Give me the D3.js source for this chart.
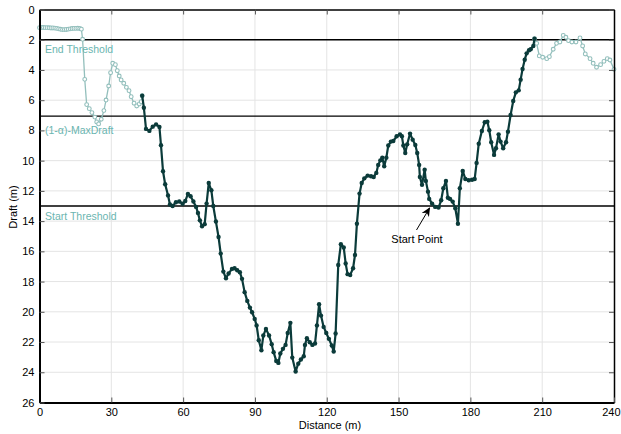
<!DOCTYPE html>
<html><head><meta charset="utf-8">
<script src="https://cdn.jsdelivr.net/npm/d3@7"></script>
<style>
html,body{margin:0;padding:0;background:#fff;}
svg{display:block;font-family:"Liberation Sans",Arial,sans-serif;}
</style></head>
<body>
<svg id="chart" width="621" height="434"></svg>
<script>
// ---- data ----
const xTicks = [0,30,60,90,120,150,180,210,240];
const yTicks = [0,2,4,6,8,10,12,14,16,18,20,22,24,26];

const lightLeftX = [0,0.8,1.6,2.4,3.2,4,4.8,5.6,6.4,7.2,8,8.8,9.6,10.4,11.2,12,12.8,13.6,14.4,15.2,16,16.8,17.5,18,18.9,19.7,20.8,21.9,23.1,23.9,24.7,25.8,26.9,27.8,28.9,29.7,30.6,31.7,32.5,33.3,34.1,35.2,36.3,37.4,38.3,39.5,40.6,41.7,42.5,42.9];
const lightLeftY = [1.2,1.19,1.19,1.2,1.2,1.21,1.22,1.22,1.23,1.25,1.28,1.31,1.33,1.33,1.32,1.3,1.28,1.26,1.25,1.25,1.24,1.26,1.3,1.97,4.62,6.29,6.56,6.82,7.12,7.44,7.57,7.26,6.69,5.99,5.06,4.18,3.56,3.65,4.05,4.4,4.66,4.88,5.15,5.37,5.77,6.2,6.38,6.25,6.1,5.7];

const darkX = [42.9,43.6,44.5,45.9,47.3,48.7,50.1,50.75,51.6,52.5,53.7,54.5,55.6,57,58.4,59.8,60.9,62,63.1,64.3,65.4,66.2,67,67.9,69,69.8,70.7,71.8,72.6,73.7,74.8,75.7,76.8,77.9,79,80.4,81.5,82.6,83.7,84.6,85.7,86.8,87.9,88.8,89.9,90.7,91.6,92.7,93.5,94.6,95.9,97,97.8,98.9,99.8,100.6,101.7,102.8,103.7,104.8,105.6,107,108.1,109.2,110.4,110.9,111.7,112.9,114,115.1,115.9,116.8,117.6,118.7,119.8,120.9,122.1,122.9,123.7,124.8,125.9,127.1,127.9,128.7,129.8,131,131.8,132.6,133.7,134.6,135.7,137.1,138.5,139.6,140.7,141.5,142.4,143.2,144,144.9,145.7,146.8,147.8,149.2,150.6,151.4,152,152.8,153.6,154.8,155.9,157,157.8,158.6,158.9,159.8,160.9,161.4,162.3,162.8,164,165.3,166.7,167.8,168.7,169.8,170.6,171.5,172.6,173.7,174.8,175.6,176.8,177.9,179.3,180.7,181.8,182.6,183.5,184.8,186,187.1,187.9,188.7,189.9,190.7,191.8,192.6,193.7,194.9,195.7,196.8,197.9,199,200.2,201,201.8,202.7,203.5,204.5,205.2,206.3,206.8];
const darkY = [5.7,6.5,7.9,8.03,7.75,7.6,7.77,8.98,10.7,11.56,12.3,12.9,13.0,12.75,12.7,12.85,12.67,12.2,12.35,12.7,13.06,13.46,13.95,14.34,14.2,12.84,11.48,11.96,13.0,14.03,15.05,16.15,17.34,17.78,17.47,17.16,17.12,17.25,17.38,17.82,18.7,19.28,19.72,20.03,20.47,20.9,21.88,22.54,21.57,21.13,21.57,22.14,22.67,23.25,23.38,22.76,22.45,22.19,21.4,20.73,23.03,23.95,23.43,23.16,22.94,22.19,21.75,22.01,22.19,22.1,20.9,19.5,20.25,21.0,21.4,21.79,22.23,22.63,21.44,16.9,15.53,15.75,16.8,17.51,17.56,17.12,16.24,14.17,12.18,11.48,11.17,10.99,11.03,11.08,10.81,10.28,9.98,9.8,10.37,9.8,9.0,8.74,8.7,8.39,8.26,8.39,9.0,9.49,8.92,8.21,8.61,8.96,9.49,10.28,11.08,11.6,10.6,11.34,12.05,12.53,12.84,13.06,13.1,12.62,11.83,11.34,12.45,12.53,12.71,13.15,14.17,11.83,10.68,11.21,11.3,11.26,11.21,10.15,8.88,8.04,7.46,7.42,7.99,8.78,9.62,9.18,8.26,8.74,9.18,8.78,8.08,6.98,6.05,5.48,5.35,4.64,3.94,3.32,2.9,2.7,2.63,2.41,1.93];

const lightRightX = [206.8,207.7,208.8,210.2,211.9,213,214.6,216,217.4,218.8,219.9,221,222.4,224.1,225.8,226.9,228,230,231.3,232.7,234.4,235.8,237.2,238.3,240];
const lightRightY = [1.93,2.24,3.07,3.16,3.25,3.12,2.63,2.24,2.15,1.71,1.84,2.06,2.15,2.15,1.88,2.41,2.94,3.25,3.56,3.82,3.65,3.43,3.25,3.34,3.96];

const thresholdNames = ["End Threshold","(1-\u03b1)-MaxDraft","Start Threshold"];
const thresholdValues = [2, 7.05, 13];
const startPoint = {label:"Start Point", x:164, y:13.0};

// ---- layout ----
const svg = d3.select("#chart");
const x = d3.scaleLinear().domain([0,240]).range([39.5,614]);
const y = d3.scaleLinear().domain([0,26]).range([9.5,402.5]);
const L=x(0), R=x(240), T=y(0), B=y(26);

const darkCol = "#0b3b3a", lightCol = "#93bfbc", labCol = "#6ab5b0";

// grid
svg.append("g").selectAll("line").data(xTicks.slice(1,-1)).join("line")
  .attr("x1",d=>x(d)).attr("x2",d=>x(d)).attr("y1",T).attr("y2",B)
  .attr("stroke","#e4e4e4").attr("stroke-width",1);
svg.append("g").selectAll("line").data(yTicks.slice(1,-1)).join("line")
  .attr("y1",d=>y(d)).attr("y2",d=>y(d)).attr("x1",L).attr("x2",R)
  .attr("stroke","#e4e4e4").attr("stroke-width",1);

// thresholds
svg.append("g").selectAll("line").data(thresholdValues).join("line")
  .attr("x1",L).attr("x2",R).attr("y1",d=>y(d)).attr("y2",d=>y(d))
  .attr("stroke","#000").attr("stroke-width",1.3);

const line = d3.line().x(d=>x(d[0])).y(d=>y(d[1]));
function series(xs, ys){ return xs.map((v,i)=>[v, ys[i]]); }

// light series
[series(lightLeftX, lightLeftY), series(lightRightX, lightRightY)].forEach(data=>{
  svg.append("path").datum(data).attr("d",line).attr("fill","none")
    .attr("stroke",lightCol).attr("stroke-width",1.3);
  svg.append("g").selectAll("circle").data(data).join("circle")
    .attr("cx",d=>x(d[0])).attr("cy",d=>y(d[1])).attr("r",1.9)
    .attr("fill","#fff").attr("stroke",lightCol).attr("stroke-width",1.1);
});

// dark series
const dark = series(darkX, darkY);
svg.append("path").datum(dark).attr("d",line).attr("fill","none")
  .attr("stroke",darkCol).attr("stroke-width",2.2).attr("stroke-linejoin","round");
svg.append("g").selectAll("circle").data(dark).join("circle")
  .attr("cx",d=>x(d[0])).attr("cy",d=>y(d[1])).attr("r",2.2).attr("fill",darkCol);

// axes
function styleAxis(g, w){
  g.select(".domain").attr("stroke","#000").attr("stroke-width",w);
  g.selectAll(".tick line").attr("stroke","#555").attr("stroke-width",1);
  g.selectAll(".tick text").attr("fill","#000").attr("font-size","11px")
    .attr("font-family","'Liberation Sans',Arial,sans-serif");
}
svg.append("g").attr("transform",`translate(0,${T})`)
  .call(d3.axisTop(x).tickValues(xTicks).tickSize(-5).tickSizeOuter(0).tickFormat(""))
  .call(g=>styleAxis(g,1.5));
svg.append("g").attr("transform",`translate(${R},0)`)
  .call(d3.axisRight(y).tickValues(yTicks).tickSize(-5).tickSizeOuter(0).tickFormat(""))
  .call(g=>styleAxis(g,1.5));
svg.append("g").attr("transform",`translate(0,${B})`)
  .call(d3.axisBottom(x).tickValues(xTicks).tickSize(-5).tickSizeOuter(0).tickPadding(6).tickFormat(d3.format("d")))
  .call(g=>styleAxis(g,2))
  .call(g=>g.selectAll(".tick text").filter(d=>d===240).attr("text-anchor","end").attr("dx","6"));
svg.append("g").attr("transform",`translate(${L},0)`)
  .call(d3.axisLeft(y).tickValues(yTicks).tickSize(-5).tickSizeOuter(0).tickPadding(5).tickFormat(d3.format("d")))
  .call(g=>styleAxis(g,2));

// axis titles
svg.append("text").attr("x",330).attr("y",429).attr("text-anchor","middle")
  .attr("font-size","11px").text("Distance (m)");
svg.append("text").attr("transform","translate(17,207) rotate(-90)").attr("text-anchor","middle")
  .attr("font-size","11px").text("Draft (m)");

// threshold labels
const labOffsets = [13, 18, 14];
svg.append("g").selectAll("text").data(thresholdNames).join("text")
  .attr("x",45).attr("y",(d,i)=>y(thresholdValues[i])+labOffsets[i])
  .attr("fill",labCol).attr("font-size","10.5px").text(d=>d);

// start point annotation
svg.append("defs").append("marker").attr("id","ah").attr("viewBox","0 0 10 10")
  .attr("refX",9).attr("refY",5).attr("markerWidth",9).attr("markerHeight",9)
  .attr("markerUnits","userSpaceOnUse")
  .attr("orient","auto").append("path").attr("d","M0,0.5 L10,5 L0,9.5 L3,5 Z").attr("fill","#000");
svg.append("line").attr("x1",416.5).attr("y1",230).attr("x2",x(startPoint.x)-2.5).attr("y2",y(startPoint.y)+2)
  .attr("stroke","#000").attr("stroke-width",1).attr("marker-end","url(#ah)");
svg.append("text").attr("x",417).attr("y",243).attr("text-anchor","middle")
  .attr("font-size","11px").text(startPoint.label);
</script>
</body></html>
